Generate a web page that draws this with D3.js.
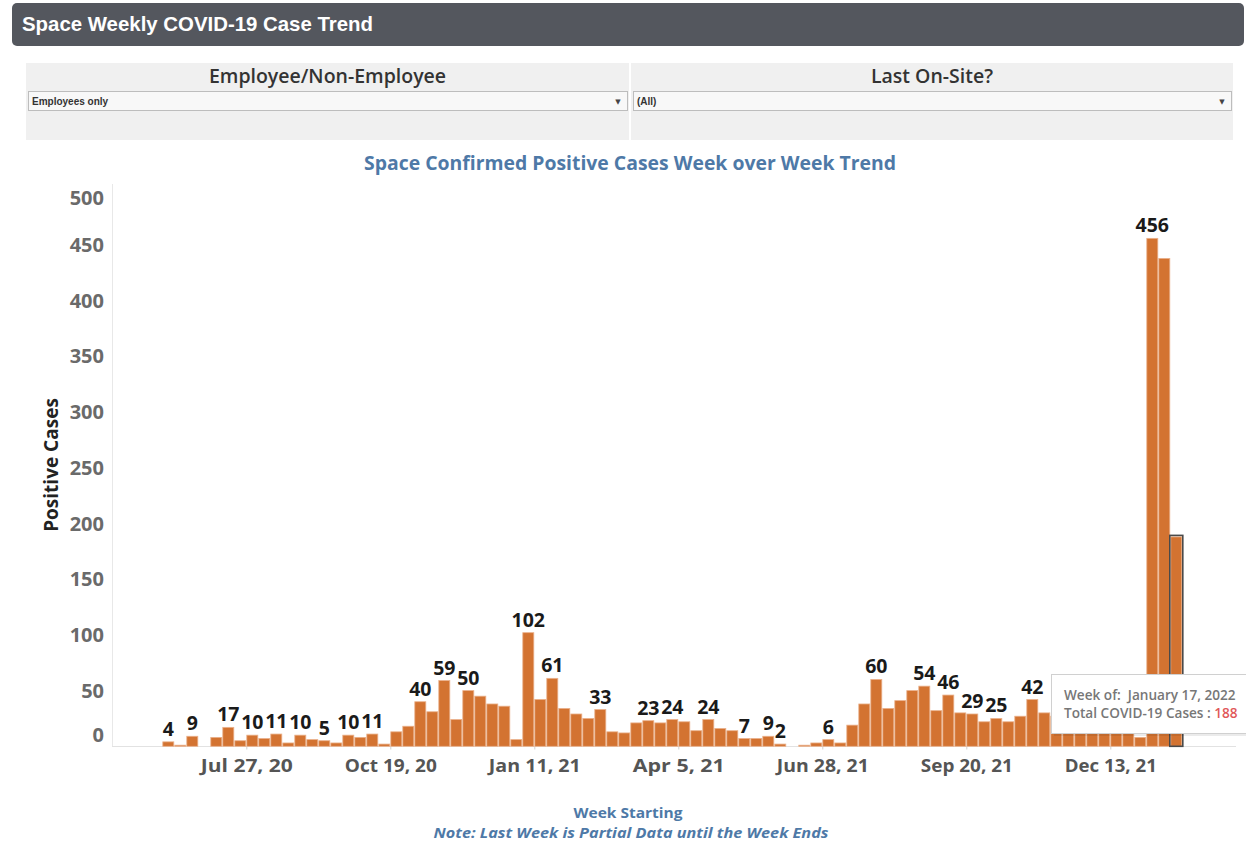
<!DOCTYPE html>
<html>
<head>
<meta charset="utf-8">
<script src="https://cdn.jsdelivr.net/npm/d3@7"></script>
<style>
  html, body { margin: 0; padding: 0; background: #fff; }
  svg { display: block; }
</style>
</head>
<body>
<div id="chart"></div>
<script>
// weekly positive cases, first week starting Jun 8, 2020
var firstWeek = "2020-06-08";
var lastWeek = "2022-01-17";
var cases = [
  4, 1, 9, 0, 8, 17, 5, 10, 7, 11,
  3, 10, 6, 5, 3, 10, 8, 11, 2, 13,
  18, 40, 31, 59, 24, 50, 45, 38, 36, 6,
  102, 42, 61, 34, 29, 25, 33, 13, 12, 21,
  23, 21, 24, 22, 14, 24, 16, 14, 7, 7,
  9, 2, 0, 1, 3, 6, 3, 19, 38, 60,
  34, 41, 50, 54, 32, 46, 30, 29, 22, 25,
  22, 27, 42, 30, 27, 30, 22, 28, 32, 38,
  55, 8, 456, 438, 188
];
// which weeks carry a mark label (index into cases)
var labelled = [0, 2, 5, 7, 9, 11, 13, 15, 17, 21, 23, 25, 30, 32, 36, 40, 42, 45,
                48, 50, 51, 55, 59, 63, 65, 67, 69, 72, 82];
var yTicks = [0, 50, 100, 150, 200, 250, 300, 350, 400, 450, 500];
var xTicks = ["2020-07-27", "2020-10-19", "2021-01-11", "2021-04-05", "2021-06-28", "2021-09-20", "2021-12-13"];

var W = 1246, H = 849;
var parse = d3.timeParse("%Y-%m-%d");
var weeks = d3.timeMonday.range(parse(firstWeek), d3.timeDay.offset(parse(lastWeek), 1));
var data = weeks.map(function (d, i) { return { week: d, value: cases[i], idx: i }; });

var svg = d3.select("#chart").append("svg").attr("width", W).attr("height", H);

// header bar
svg.append("rect").attr("x", 12).attr("y", 3).attr("width", 1232).attr("height", 43)
    .attr("rx", 5).attr("fill", "#54575e");
svg.append("text").attr("x", 22).attr("y", 31)
    .attr("font-family", "Liberation Sans, Arial, sans-serif").attr("font-weight", "bold")
    .attr("font-size", 20.4).attr("fill", "#fff")
    .text("Space Weekly COVID-19 Case Trend");

// filter panel
var filters = [
  { title: "Employee/Non-Employee", value: "Employees only", x0: 26, x1: 629 },
  { title: "Last On-Site?", value: "(All)", x0: 631, x1: 1233 }
];
filters.forEach(function (f) {
    var g = svg.append("g");
    g.append("rect").attr("x", f.x0).attr("y", 63).attr("width", f.x1 - f.x0).attr("height", 77)
        .attr("fill", "#f0f0f0");
    g.append("text").attr("x", (f.x0 + f.x1) / 2).attr("y", 83).attr("text-anchor", "middle")
        .attr("font-family", "Open Sans, sans-serif").attr("font-weight", 600)
        .attr("font-size", 19.5).attr("fill", "#333").text(f.title);
    g.append("rect").attr("x", f.x0 + 2.5).attr("y", 91.5).attr("width", f.x1 - f.x0 - 4).attr("height", 19)
        .attr("fill", "#f8f8f8").attr("stroke", "#bdbdbd");
    g.append("text").attr("x", f.x0 + 6).attr("y", 105)
        .attr("font-family", "Liberation Sans Narrow, Liberation Sans, Arial, sans-serif").attr("font-weight", "bold")
        .attr("font-size", 10).attr("fill", "#333").text(f.value);
    g.append("text").attr("x", f.x1 - 11).attr("y", 104).attr("text-anchor", "middle")
        .attr("font-family", "DejaVu Sans, sans-serif").attr("font-size", 7).attr("fill", "#444").text("\u25BC");
});

// chart title
svg.append("text").attr("x", 630).attr("y", 170).attr("text-anchor", "middle")
    .attr("font-family", "Open Sans, sans-serif").attr("font-weight", 700)
    .attr("font-size", 19.4).attr("fill", "#4e79a7")
    .text("Space Confirmed Positive Cases Week over Week Trend");

// scales
var step = 12;
var x0 = 162.3;
var x = d3.scaleTime()
    .domain([weeks[0], d3.timeWeek.offset(weeks[weeks.length - 1], 1)])
    .range([x0, x0 + weeks.length * step]);
var y = d3.scaleLinear().domain([0, 503]).range([746.3, 186]);

// axis lines
svg.append("line").attr("x1", 112.5).attr("x2", 112.5).attr("y1", 184).attr("y2", 746.5)
    .attr("stroke", "#e8e8e8");
svg.append("line").attr("x1", 112).attr("x2", 1236).attr("y1", 746.5).attr("y2", 746.5)
    .attr("stroke", "#e2e2e2");

// y tick labels (first/last kept inside the pane, as the original)
svg.append("g").selectAll("text").data(yTicks).join("text")
    .attr("x", 104).attr("text-anchor", "end").attr("dy", "0.35em")
    .attr("y", function (d) { return Math.min(Math.max(y(d), 198), 735); })
    .attr("font-family", "Open Sans, sans-serif").attr("font-weight", 700)
    .attr("font-size", 20).attr("fill", "#6a6a6a")
    .text(function (d) { return d; });

svg.append("text")
    .attr("transform", "translate(58,465) rotate(-90)").attr("text-anchor", "middle")
    .attr("font-family", "Open Sans, sans-serif").attr("font-weight", 700)
    .attr("font-size", 19).attr("fill", "#222").text("Positive Cases");

// x axis
var fmt = d3.timeFormat("%b %-d, %y");
var xAxis = d3.axisBottom(x).tickValues(xTicks.map(parse)).tickFormat(fmt).tickSize(3).tickPadding(10);
var gx = svg.append("g").attr("transform", "translate(0,746.5)").call(xAxis);
gx.select(".domain").remove();
gx.selectAll(".tick line").attr("stroke", "#d0d0d0");
gx.selectAll(".tick text")
    .attr("font-family", "Open Sans, sans-serif").attr("font-weight", 700)
    .attr("font-size", 18).attr("fill", "#555")
    .attr("textLength", 92).attr("lengthAdjust", "spacingAndGlyphs");

// bars
svg.append("g").selectAll("rect").data(data).join("rect")
    .attr("x", function (d) { return x(d.week) + 0.5; })
    .attr("width", step - 1)
    .attr("y", function (d) { return y(d.value); })
    .attr("height", function (d) { return y(0) - y(d.value); })
    .attr("fill", "#d37331")
    .attr("stroke", "#eab08a").attr("stroke-width", 0.8);

// highlighted (selected) last week
var sel = data[data.length - 1];
svg.append("rect")
    .attr("x", x(sel.week) - 0.5).attr("width", step + 1)
    .attr("y", y(sel.value) - 1.5).attr("height", y(0) - y(sel.value) + 1.5)
    .attr("fill", "none").attr("stroke", "#4a4a4a").attr("stroke-width", 1.6);

// mark labels
svg.append("g").selectAll("text").data(labelled.map(function (i) { return data[i]; })).join("text")
    .attr("x", function (d) { return x(d.week) + step / 2; })
    .attr("y", function (d) { return y(d.value) - 6; })
    .attr("text-anchor", "middle")
    .attr("font-family", "Open Sans, sans-serif").attr("font-weight", 700)
    .attr("font-size", 19.5).attr("fill", "#1a1a1a")
    .text(function (d) { return d.value; });

// tooltip over the selected week
var tip = svg.append("g");
tip.append("rect").attr("x", 1054).attr("y", 677).attr("width", 200).attr("height", 59)
    .attr("fill", "#000").attr("opacity", 0.08);
tip.append("rect").attr("x", 1051.5).attr("y", 674.5).attr("width", 200).attr("height", 59)
    .attr("fill", "#fff").attr("stroke", "#d0d0d0");
tip.append("text").attr("x", 1064).attr("y", 700)
    .attr("font-family", "Open Sans, sans-serif").attr("font-weight", 600)
    .attr("font-size", 13.6).attr("fill", "#777")
    .text("Week of:\u00a0 " + d3.timeFormat("%B %-d, %Y")(sel.week));
var t2 = tip.append("text").attr("x", 1064).attr("y", 718)
    .attr("font-family", "Open Sans, sans-serif").attr("font-weight", 600)
    .attr("font-size", 13.6).attr("fill", "#777");
t2.append("tspan").text("Total COVID-19 Cases :\u00a0");
t2.append("tspan").attr("fill", "#e15759").text(sel.value);

// footer
svg.append("text").attr("x", 628).attr("y", 818).attr("text-anchor", "middle")
    .attr("font-family", "Open Sans, sans-serif").attr("font-weight", 700)
    .attr("font-size", 14).attr("fill", "#4e79a7")
    .attr("textLength", 109).attr("lengthAdjust", "spacingAndGlyphs").text("Week Starting");
svg.append("text").attr("x", 631).attr("y", 838).attr("text-anchor", "middle")
    .attr("font-family", "Open Sans, sans-serif").attr("font-weight", 700).attr("font-style", "italic")
    .attr("font-size", 14).attr("fill", "#4e79a7")
    .attr("textLength", 395).attr("lengthAdjust", "spacingAndGlyphs")
    .text("Note: Last Week is Partial Data until the Week Ends");
</script>
</body>
</html>
